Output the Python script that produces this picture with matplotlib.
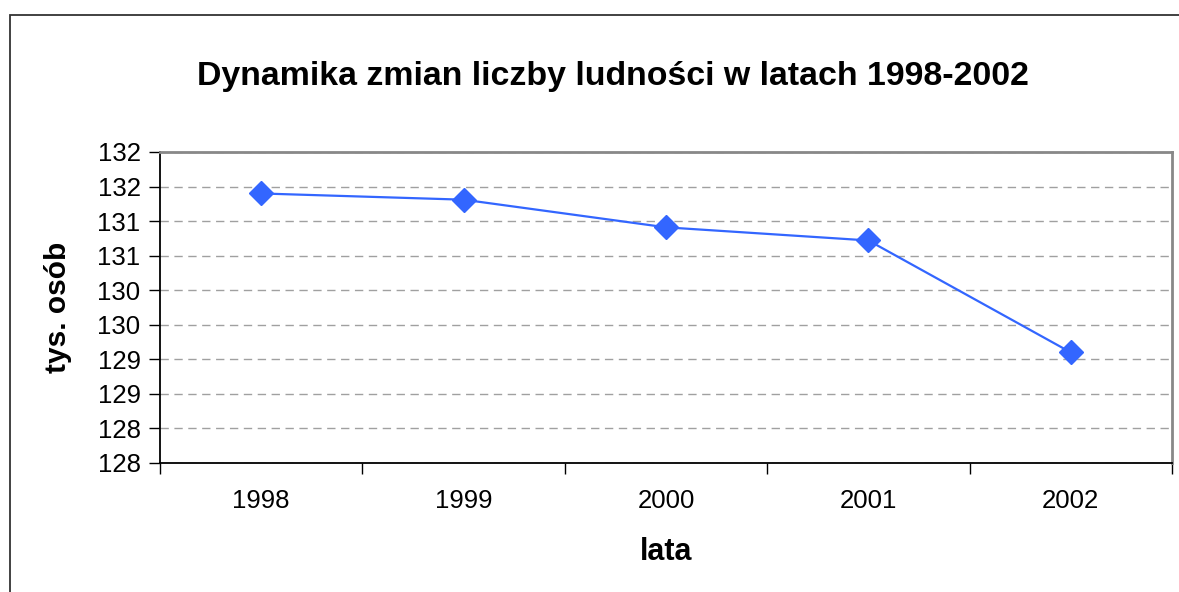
import numpy as np
import matplotlib
matplotlib.use('Agg')
import matplotlib.pyplot as plt
from matplotlib.patches import Rectangle
from matplotlib.ticker import FuncFormatter, MultipleLocator

plt.rcParams['font.family'] = ['Liberation Sans', 'DejaVu Sans']

years = ['1998', '1999', '2000', '2001', '2002']
population = [131.40, 131.31, 130.91, 130.72, 129.10]  # thousands

title = 'Dynamika zmian liczby ludności w latach 1998-2002'
x_label = 'lata'
y_label = 'tys. osób'

fig = plt.figure(figsize=(11.79, 5.92), dpi=100)

# outer chart border (open at right and bottom, as in the source)
fig.patches.append(Rectangle((10 / 1179, -0.1), 2.0, 1.1 - 15 / 592,
                             transform=fig.transFigure, fill=False,
                             edgecolor='#333333', linewidth=1.3))

ax = fig.add_axes([160 / 1179, 1 - 463 / 592, 1012 / 1179, 311 / 592])

x = np.arange(len(years))
ax.plot(x, population, color='#3366FF', linewidth=1.6, marker='D',
        markersize=12.5, markeredgecolor='#3366FF', zorder=3)

ax.set_xlim(-0.5, len(years) - 0.5)
ax.set_ylim(127.5, 132)
ax.yaxis.set_major_locator(MultipleLocator(0.5))
ax.yaxis.set_major_formatter(FuncFormatter(lambda v, p: f'{int(np.floor(v + 0.5))}'))

# category labels centred, ticks on category boundaries
ax.set_xticks(np.arange(-0.5, len(years)), minor=False)
ax.set_xticklabels([])
ax.set_xticks(x, minor=True)
ax.set_xticklabels(years, minor=True)
ax.tick_params(axis='x', which='minor', length=0, labelsize=18.5, pad=19)
ax.tick_params(axis='x', which='major', length=8, width=1, direction='out')
ax.tick_params(axis='y', length=8, width=1, direction='out', labelsize=18.5, pad=6)

ax.grid(axis='y', which='major', color='#a0a0a0', linestyle=(0, (6, 4)), linewidth=1)
ax.set_axisbelow(True)

for side in ['top', 'right']:
    ax.spines[side].set_color('#888888')
    ax.spines[side].set_linewidth(2)
for side in ['left', 'bottom']:
    ax.spines[side].set_color('black')
    ax.spines[side].set_linewidth(1.3)

ax.set_xlabel(x_label, fontsize=22, fontweight='bold', labelpad=17)
ax.set_ylabel(y_label, fontsize=21.5, fontweight='bold', labelpad=18)
fig.text(613 / 1179, 1 - 76 / 592, title, ha='center', va='center',
         fontsize=24.4, fontweight='bold')

fig.savefig('out.png', dpi=100)
